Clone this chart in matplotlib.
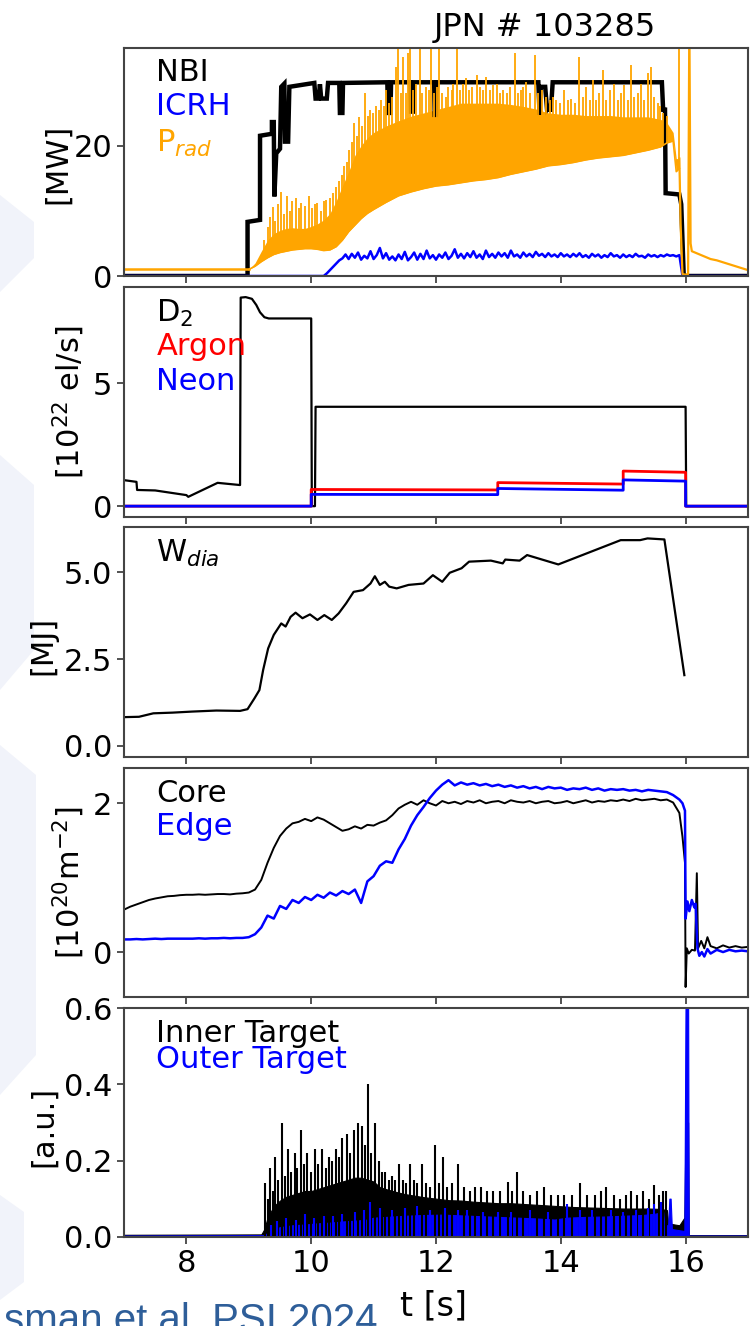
import numpy as np
import matplotlib
matplotlib.use('Agg')
import matplotlib.pyplot as plt
from matplotlib.patches import Polygon
from matplotlib.ticker import FormatStrFormatter

plt.rcParams['font.family'] = ['DejaVu Sans']
plt.rcParams['mathtext.fontset'] = 'dejavusans'

# ------------------------------------------------------------------ data
x_ticks = [8, 10, 12, 14, 16]

# Panel 1: heating / radiated power [MW]
nbi_t = [7.0, 8.98, 8.98, 9.18, 9.18, 9.37, 9.37, 9.40, 9.41, 9.44, 9.50, 9.52, 9.57, 9.58, 9.63, 9.65,
         10.05, 10.07, 10.12, 10.14, 10.16, 10.25, 10.27, 10.45, 10.46, 10.50, 10.51, 11.22, 11.23, 11.27,
         11.28, 11.59, 11.60, 11.63, 11.64, 11.97, 11.98, 12.00, 12.01, 13.64, 13.66, 13.68, 13.75, 13.78,
         13.82, 13.84, 13.87, 15.62, 15.64, 15.67, 15.68, 15.90, 15.93, 15.97, 17.0]
nbi_p = [0.0, 0.0, 8.3, 8.6, 21.5, 21.8, 23.6, 23.6, 12.2, 18.8, 19.5, 29.0, 29.5, 20.6, 20.6, 29.0,
         29.6, 27.2, 27.2, 29.4, 27.2, 27.2, 29.6, 29.6, 25.0, 25.0, 29.6, 29.7, 25.0, 25.0,
         29.7, 29.7, 25.2, 25.2, 29.7, 29.7, 24.7, 24.7, 29.7, 29.7, 24.7, 29.0, 29.0, 25.5,
         26.0, 25.2, 29.7, 29.7, 25.5, 25.5, 12.7, 12.5, 11.0, 0.0, 0.0]

icrh_t0, icrh_dt = 10.20, 0.05
icrh_p = [0.0, 0.4, 0.9, 1.4, 1.9, 2.4, 2.7, 3.3, 2.6, 3.4, 2.8, 3.6, 2.5, 3.1, 2.7, 3.8, 2.6, 3.2, 4.3, 2.7,
          3.5, 2.5, 3.0, 2.4, 3.3, 2.6, 3.7, 2.4, 2.9, 3.6, 2.5, 3.4, 2.6, 3.9, 2.7, 3.2, 2.5, 3.3, 2.8, 3.6,
          2.6, 3.1, 4.1, 2.8, 3.4, 2.7, 3.5, 2.9, 3.8, 2.8, 3.3, 2.6, 3.9, 2.9, 3.4, 2.8, 3.6, 3.0, 3.5, 2.8,
          3.9, 3.0, 3.3, 2.8, 3.6, 3.0, 3.4, 2.9, 3.7, 3.1, 3.4, 2.9, 3.5, 3.0, 3.3, 2.9, 3.5, 3.0, 3.3, 2.9,
          3.4, 3.0, 3.5, 2.9, 3.2, 2.8, 3.4, 3.0, 3.3, 2.8, 3.2, 2.9, 3.5, 3.0, 3.2, 2.8, 3.3, 2.9, 3.2, 2.9,
          3.4, 3.0, 3.1, 2.8, 3.3, 3.0, 3.2, 2.9, 3.2, 3.0, 3.3, 3.1, 3.2, 3.0, 3.2]
icrh_end_t = [15.95, 17.0]
icrh_end_p = [0.0, 0.0]

prad_base_t = [7.0, 9.0]
prad_base_p = [1.0, 1.0]
prad_env_t = [9.0, 9.1, 9.2, 9.3, 9.4, 9.5, 9.6, 9.7, 9.8, 9.9, 10.0, 10.1, 10.2, 10.3, 10.4, 10.5, 10.6,
              10.7, 10.8, 10.9, 11.0, 11.2, 11.4, 11.6, 11.8, 12.0, 12.2, 12.4, 12.6, 12.8, 13.0, 13.2,
              13.4, 13.6, 13.8, 14.0, 14.2, 14.4, 14.6, 14.8, 15.0, 15.2, 15.4, 15.6, 15.7, 15.8, 15.85, 15.9]
prad_low = [1.0, 1.5, 2.2, 2.8, 3.3, 3.6, 3.8, 4.0, 4.1, 4.2, 4.2, 4.1, 3.9, 4.0, 4.5, 5.5, 6.8,
            7.8, 8.8, 9.6, 10.2, 11.3, 12.3, 12.9, 13.4, 13.8, 14.0, 14.3, 14.6, 14.8, 15.1, 15.6,
            16.0, 16.4, 16.9, 17.1, 17.4, 17.8, 18.1, 18.3, 18.5, 18.9, 19.3, 19.8, 20.4, 20.7, 16.0, 16.5]
prad_high = [1.0, 2.0, 3.8, 5.5, 6.5, 7.0, 7.3, 7.4, 7.3, 7.3, 7.6, 8.0, 8.6, 9.6, 11.5, 13.8, 16.0,
             18.5, 20.0, 21.2, 22.0, 23.0, 23.8, 24.5, 25.0, 25.5, 26.0, 26.5, 26.5, 26.5, 26.5, 26.3,
             26.0, 25.6, 25.0, 24.8, 24.8, 24.6, 24.6, 24.6, 24.4, 24.4, 24.4, 24.0, 23.5, 22.0, 18.0, 18.0]
prad_tail_t = [15.9, 15.92, 15.95, 16.0, 16.04, 16.06, 16.08, 16.1, 16.2, 16.3, 16.4, 16.5, 16.6, 16.7,
               16.8, 16.9, 17.0]
prad_tail_p = [18.0, 8.0, 0.3, 0.2, 0.3, 40.0, 5.0, 3.8, 3.4, 3.0, 2.6, 2.4, 2.1, 1.8, 1.5, 1.2, 0.9]
prad_spk_t = [9.25, 9.30, 9.34, 9.38, 9.42, 9.46, 9.52, 9.56, 9.62, 9.66, 9.70, 9.76, 9.80, 9.84, 9.90, 9.97,
              10.02, 10.06, 10.10, 10.15, 10.20, 10.24, 10.30, 10.35, 10.40, 10.45, 10.49, 10.53, 10.57,
              10.61, 10.65, 10.69, 10.73, 10.77, 10.82, 10.87, 10.91, 10.95, 10.99, 11.04, 11.08, 11.12,
              11.16, 11.20, 11.25, 11.30, 11.36, 11.39, 11.44, 11.47, 11.52, 11.55, 11.58, 11.63, 11.68,
              11.74, 11.78, 11.84, 11.88, 11.92, 11.97, 12.01, 12.05, 12.10, 12.16, 12.20, 12.25, 12.28,
              12.33, 12.38, 12.43, 12.48, 12.53, 12.58, 12.65, 12.70, 12.75, 12.80, 12.86, 12.91, 12.97,
              13.02, 13.08, 13.13, 13.18, 13.26, 13.31, 13.36, 13.40, 13.45, 13.50, 13.58, 13.63, 13.70,
              13.76, 13.82, 13.88, 13.93, 13.99, 14.05, 14.11, 14.17, 14.23, 14.29, 14.35, 14.40, 14.46,
              14.52, 14.57, 14.62, 14.68, 14.73, 14.79, 14.86, 14.91, 14.96, 15.02, 15.07, 15.13, 15.18,
              15.23, 15.29, 15.34, 15.40, 15.45, 15.50, 15.55, 15.59, 15.64, 15.70, 15.90]
prad_spk_p = [5.5, 7.5, 9.0, 10.6, 8.5, 11.0, 12.9, 9.5, 12.2, 10.0, 11.5, 12.0, 10.5, 11.2, 10.8, 12.2,
              10.5, 11.0, 11.2, 10.0, 11.5, 11.7, 12.0, 12.8, 13.7, 14.5, 15.5, 16.8, 17.5,
              19.3, 20.5, 23.4, 21.5, 24.4, 23.0, 28.0, 24.5, 25.5, 25.0, 26.0, 25.5, 27.0,
              26.0, 28.5, 26.5, 27.5, 32.1, 36.0, 28.0, 33.6, 28.0, 34.2, 36.0, 28.5, 29.5,
              36.0, 28.0, 29.0, 28.5, 36.0, 28.0, 29.0, 36.0, 28.0, 27.5, 29.0, 28.5, 29.5,
              36.0, 28.5, 29.5, 30.3, 28.5, 29.0, 30.8, 29.0, 28.5, 30.5, 28.5, 29.3, 29.5,
              28.0, 28.5, 28.0, 29.0, 34.2, 28.0, 28.5, 29.0, 29.8, 28.0, 33.9, 28.0, 28.5,
              27.5, 27.0, 27.5, 27.0, 26.5, 28.5, 27.0, 27.2, 26.5, 33.6, 27.5, 29.0, 27.0,
              30.1, 27.0, 28.0, 31.6, 27.0, 28.5, 29.5, 27.0, 28.0, 29.3, 27.0, 32.4, 27.5,
              28.0, 29.5, 27.0, 31.1, 32.1, 27.5, 26.5, 26.0, 25.0, 24.5, 36.0]

# Panel 2: gas fuelling [1e22 el/s]
d2_t = [7.0, 7.2, 7.21, 7.5, 8.0, 8.03, 8.5, 8.86, 8.87, 8.95, 9.05, 9.12, 9.18, 9.25, 9.32, 10.0, 10.01,
        10.06, 10.07, 16.0, 16.01, 17.0]
d2_v = [1.06, 0.99, 0.66, 0.64, 0.45, 0.38, 0.95, 0.86, 8.5, 8.52, 8.45, 8.2, 7.9, 7.7, 7.65, 7.65, 0.0,
        0.0, 4.05, 4.05, 0.0, 0.0]
ar_t = [7.0, 10.0, 10.0, 12.99, 12.99, 15.0, 15.0, 16.0, 16.0, 17.0]
ar_v = [0.0, 0.0, 0.68, 0.66, 0.96, 0.90, 1.43, 1.38, 0.0, 0.0]
ne_t = [7.0, 10.0, 10.0, 12.99, 12.99, 15.0, 15.0, 16.0, 16.0, 17.0]
ne_v = [0.0, 0.0, 0.48, 0.47, 0.72, 0.65, 1.07, 1.02, 0.0, 0.0]

# Panel 3: diamagnetic energy [MJ]
wdia_t = [7.0, 7.24, 7.47, 7.78, 8.09, 8.48, 8.86, 8.98, 9.09, 9.17, 9.23, 9.31, 9.40, 9.52, 9.59, 9.67,
          9.75, 9.86, 9.98, 10.10, 10.21, 10.33, 10.44, 10.56, 10.68, 10.83, 10.95, 11.02, 11.10, 11.18,
          11.25, 11.37, 11.56, 11.80, 11.95, 12.10, 12.22, 12.41, 12.53, 12.88, 13.07, 13.11, 13.34,
          13.46, 13.96, 14.96, 15.27, 15.39, 15.66, 15.98]
wdia_v = [0.83, 0.84, 0.94, 0.96, 0.99, 1.02, 1.01, 1.06, 1.37, 1.61, 2.19, 2.81, 3.20, 3.53, 3.44, 3.72,
          3.84, 3.68, 3.79, 3.63, 3.77, 3.63, 3.82, 4.11, 4.44, 4.49, 4.68, 4.89, 4.64, 4.73,
          4.59, 4.54, 4.64, 4.68, 4.92, 4.73, 4.99, 5.12, 5.31, 5.34, 5.26, 5.37, 5.34,
          5.50, 5.23, 5.93, 5.93, 5.98, 5.95, 2.04]

# Panel 4: line-integrated density [1e20 m^-2]
dens_t0, dens_dt = 7.0, 0.1
core_v = [0.57, 0.61, 0.64, 0.67, 0.70, 0.72, 0.735, 0.75, 0.755, 0.765,
          0.77, 0.77, 0.775, 0.77, 0.775, 0.78, 0.78, 0.775, 0.785, 0.79,
          0.80, 0.84, 0.97, 1.20, 1.40, 1.56, 1.66, 1.73, 1.75, 1.79,
          1.76, 1.81, 1.78, 1.73, 1.68, 1.63, 1.65, 1.69, 1.66, 1.71,
          1.70, 1.74, 1.77, 1.84, 1.93, 1.98, 2.02, 1.98, 2.04, 2.00,
          1.97, 2.03, 2.00, 2.02, 1.99, 2.03, 2.01, 2.04, 2.00, 2.02,
          2.03, 2.00, 2.04, 2.02, 2.01, 2.03, 2.00, 2.02, 2.03, 2.00,
          2.01, 2.03, 2.00, 2.02, 2.04, 2.01, 2.03, 2.02, 2.04, 2.03,
          2.05, 2.03, 2.06, 2.04, 2.05, 2.06, 2.04, 2.05, 2.01, 1.87]
core_tail_t = [15.95, 15.99, 16.0, 16.02, 16.05, 16.1, 16.15, 16.18, 16.2, 16.25, 16.3, 16.35, 16.4, 16.5,
               16.6, 16.7, 16.8, 16.9, 17.0]
core_tail_v = [1.55, 1.2, -0.47, 0.05, -0.02, 0.03, 0.02, 1.06, 0.05, 0.15, 0.05, 0.2, 0.08, 0.05,
               0.09, 0.06, 0.08, 0.06, 0.07]
edge_v = [0.17, 0.17, 0.175, 0.17, 0.175, 0.18, 0.175, 0.18, 0.18, 0.18,
          0.18, 0.18, 0.185, 0.18, 0.185, 0.185, 0.19, 0.185, 0.19, 0.19,
          0.20, 0.24, 0.33, 0.49, 0.45, 0.62, 0.58, 0.70, 0.66, 0.74,
          0.70, 0.77, 0.73, 0.80, 0.76, 0.82, 0.78, 0.84, 0.66, 0.95,
          1.02, 1.16, 1.22, 1.20, 1.38, 1.52, 1.70, 1.84, 1.95, 2.07,
          2.17, 2.25, 2.31, 2.24, 2.28, 2.25, 2.27, 2.24, 2.26, 2.23,
          2.25, 2.22, 2.24, 2.21, 2.23, 2.20, 2.22, 2.19, 2.22, 2.20,
          2.21, 2.18, 2.20, 2.19, 2.21, 2.18, 2.20, 2.17, 2.19, 2.18,
          2.19, 2.17, 2.18, 2.16, 2.18, 2.17, 2.16, 2.15, 2.11, 2.05]
edge_tail_t = [15.95, 15.99, 16.0, 16.03, 16.06, 16.1, 16.14, 16.16, 16.19, 16.22, 16.26, 16.3, 16.35,
               16.4, 16.5, 16.6, 16.7, 16.8, 16.9, 17.0]
edge_tail_v = [2.0, 1.9, 0.45, 0.68, 0.55, 0.70, 0.60, 0.65, 0.05, -0.05, 0.0, -0.06, 0.04,
               -0.02, 0.03, 0.0, 0.03, 0.01, 0.02, 0.01]

# Panel 5: divertor target signals [a.u.]
inner_t = [7.0, 9.2, 9.25, 9.3, 9.4, 9.5, 9.6, 9.7, 9.8, 9.9, 10.0, 10.1, 10.2, 10.3, 10.4, 10.5, 10.6,
           10.7, 10.8, 10.9, 11.0, 11.1, 11.2, 11.35, 11.5, 11.65, 11.8, 12.0, 12.2, 12.4, 12.6, 12.8,
           13.0, 13.2, 13.4, 13.6, 13.8, 14.0, 14.2, 14.4, 14.6, 14.8, 15.0, 15.2, 15.4, 15.6, 15.7,
           15.72, 15.9, 15.98, 16.0, 16.04, 16.05, 17.0]
inner_top = [0.005, 0.006, 0.02, 0.05, 0.08, 0.095, 0.105, 0.11, 0.115, 0.12, 0.12, 0.125, 0.13, 0.135,
             0.14, 0.145, 0.15, 0.155, 0.155, 0.15, 0.145, 0.13, 0.125, 0.118, 0.112, 0.108, 0.104,
             0.1, 0.096, 0.095, 0.092, 0.09, 0.088, 0.088, 0.086, 0.084, 0.082, 0.08, 0.078, 0.077,
             0.076, 0.075, 0.074, 0.074, 0.074, 0.073, 0.07, 0.035, 0.03, 0.05, 0.3, 0.3, 0.004, 0.004]
inner_spk_t = [9.26, 9.30, 9.34, 9.38, 9.42, 9.47, 9.54, 9.58, 9.63, 9.68, 9.74, 9.78, 9.83, 9.88, 9.94,
               9.99, 10.06, 10.11, 10.17, 10.23, 10.29, 10.34, 10.40, 10.45, 10.50, 10.57, 10.62, 10.68,
               10.75, 10.81, 10.86, 10.91, 10.96, 11.02, 11.08, 11.13, 11.18, 11.24, 11.30, 11.35, 11.41,
               11.47, 11.52, 11.58, 11.64, 11.70, 11.78, 11.84, 11.90, 11.99, 12.05, 12.11, 12.18, 12.25,
               12.35, 12.45, 12.55, 12.63, 12.72, 12.82, 12.92, 13.03, 13.15, 13.22, 13.30, 13.40, 13.50,
               13.62, 13.73, 13.85, 13.95, 14.05, 14.18, 14.31, 14.42, 14.55, 14.64, 14.73, 14.85, 14.95,
               15.05, 15.12, 15.22, 15.32, 15.41, 15.49, 15.58, 15.64, 15.69]
inner_spk_v = [0.14, 0.10, 0.18, 0.12, 0.21, 0.15, 0.30, 0.16, 0.23, 0.17, 0.22, 0.18, 0.28, 0.19, 0.22,
               0.17, 0.23, 0.19, 0.23, 0.18, 0.21, 0.20, 0.23, 0.21, 0.26, 0.27, 0.22, 0.28,
               0.30, 0.29, 0.24, 0.40, 0.22, 0.30, 0.20, 0.17, 0.17, 0.15, 0.16, 0.15, 0.19,
               0.15, 0.14, 0.19, 0.15, 0.14, 0.19, 0.14, 0.13, 0.24, 0.14, 0.21, 0.13, 0.14,
               0.19, 0.13, 0.12, 0.13, 0.13, 0.12, 0.12, 0.12, 0.145, 0.12, 0.17, 0.12, 0.11,
               0.12, 0.13, 0.11, 0.11, 0.11, 0.11, 0.14, 0.11, 0.11, 0.12, 0.13, 0.11, 0.10,
               0.11, 0.12, 0.11, 0.12, 0.10, 0.135, 0.11, 0.12, 0.12]
outer_t = [7.0, 9.25, 9.3, 9.4, 9.5, 9.7, 9.9, 10.1, 10.3, 10.5, 10.7, 10.9, 11.0, 11.2, 11.5, 11.8, 12.1,
           12.4, 12.7, 13.0, 13.3, 13.6, 13.9, 14.1, 14.4, 14.7, 15.0, 15.3, 15.5, 15.64, 15.66, 15.72,
           15.74, 15.76, 15.78, 15.98, 16.0, 16.04, 16.05, 17.0]
outer_top = [0.003, 0.004, 0.01, 0.02, 0.025, 0.03, 0.032, 0.035, 0.037, 0.04, 0.042, 0.045, 0.05, 0.052,
             0.055, 0.057, 0.058, 0.056, 0.054, 0.052, 0.05, 0.048, 0.045, 0.05, 0.052, 0.053, 0.055,
             0.057, 0.06, 0.065, 0.03, 0.03, 0.1, 0.1, 0.02, 0.015, 0.65, 0.65, 0.003, 0.003]
outer_spk_t = [9.35, 9.45, 9.60, 9.75, 9.90, 10.05, 10.20, 10.35, 10.50, 10.70, 10.85, 10.95, 11.10, 11.30,
               11.50, 11.70, 11.90, 12.15, 12.35, 12.50, 12.75, 13.00, 13.20, 13.50, 13.80, 14.10, 14.30,
               14.50, 14.80, 15.00, 15.20, 15.40, 15.50, 15.60]
outer_spk_v = [0.03, 0.04, 0.05, 0.045, 0.06, 0.05, 0.055, 0.055, 0.06, 0.065, 0.07, 0.09, 0.075, 0.07,
               0.075, 0.08, 0.07, 0.075, 0.07, 0.07, 0.065, 0.065, 0.065, 0.07, 0.065, 0.085, 0.07,
               0.07, 0.07, 0.065, 0.07, 0.075, 0.085, 0.09]

# ------------------------------------------------------------------ figure
W, H = 751, 1326
fig = plt.figure(figsize=(W / 100, H / 100), dpi=100)

# very faint watermark shapes on the left edge (drawn underneath everything)
wm = '#F1F3FA'
for pts in ([(0, 195), (34, 222), (34, 258), (0, 292)],
            [(0, 455), (34, 485), (34, 650), (0, 690)],
            [(0, 745), (36, 775), (36, 1055), (0, 1095)],
            [(0, 1195), (24, 1212), (24, 1282), (0, 1300)]):
    fig.patches.append(Polygon([(x / W, 1 - y / H) for x, y in pts], closed=True,
                               transform=fig.transFigure, facecolor=wm, edgecolor='none', zorder=-5))

L, R = 124, 748
rows = [(47.7, 276.0), (287.3, 516.7), (527.3, 756.7), (768.3, 996.7), (1008.3, 1236.7)]
axes = [fig.add_axes([L / W, 1 - b / H, (R - L) / W, (b - t) / H]) for t, b in rows]
TFS = 22
LFS = 22
for i, ax in enumerate(axes):
    ax.set_xlim(7, 17)
    ax.set_xticks(x_ticks)
    for s in ax.spines.values():
        s.set_color('#444444')
        s.set_linewidth(1.5)
    ax.tick_params(direction='out', length=5, width=1.3, colors='#444444', labelcolor='black',
                   labelsize=TFS)
    if i < 4:
        ax.tick_params(labelbottom=False)

def tag(ax, y, s, color):
    ax.text(0.052, y, s, color=color, fontsize=LFS, transform=ax.transAxes, ha='left', va='baseline')

# Panel 1
ax = axes[0]
icrh_t = [icrh_t0 + k * icrh_dt for k in range(len(icrh_p))]
ax.plot(nbi_t, nbi_p, color='black', lw=3.2, solid_joinstyle='miter')
ax.plot([7.0, icrh_t0] + icrh_t + icrh_end_t, [0.0, 0.0] + icrh_p + icrh_end_p, color='blue', lw=1.8)
ax.plot(prad_base_t, prad_base_p, color='orange', lw=1.8)
ax.fill_between(prad_env_t, prad_low, prad_high, color='orange', lw=0)
ax.vlines(prad_spk_t, np.interp(prad_spk_t, prad_env_t, prad_low), prad_spk_p, color='orange', lw=1.3)
ax.plot(prad_env_t, prad_low, color='orange', lw=1.2)
ax.plot(prad_tail_t, prad_tail_p, color='orange', lw=1.6)
ax.set_ylim(0, 35)
ax.set_yticks([0, 20])
ax.set_ylabel('[MW]', fontsize=22)
ax.yaxis.set_label_coords(-0.083, 0.49)
tag(ax, 0.854, 'NBI', 'black')
tag(ax, 0.705, 'ICRH', 'blue')
tag(ax, 0.545, r'P$_{rad}$', 'orange')

# Panel 2
ax = axes[1]
ax.plot(d2_t, d2_v, color='black', lw=1.6)
ax.plot(ar_t, ar_v, color='red', lw=2.0)
ax.plot(ne_t, ne_v, color='blue', lw=2.0)
ax.set_ylim(-0.43, 8.92)
ax.set_yticks([0, 5])
ax.set_ylabel(r'[$10^{22}$ el/s]', fontsize=22)
ax.yaxis.set_label_coords(-0.060, 0.50)
tag(ax, 0.850, r'D$_2$', 'black')
tag(ax, 0.705, 'Argon', 'red')
tag(ax, 0.552, 'Neon', 'blue')

# Panel 3
ax = axes[2]
ax.plot(wdia_t, wdia_v, color='black', lw=1.6)
ax.set_ylim(-0.31, 6.3)
ax.set_yticks([0.0, 2.5, 5.0])
ax.yaxis.set_major_formatter(FormatStrFormatter('%.1f'))
ax.set_ylabel('[MJ]', fontsize=22)
ax.yaxis.set_label_coords(-0.106, 0.483)
tag(ax, 0.850, r'W$_{dia}$', 'black')

# Panel 4
ax = axes[3]
dens_t = [dens_t0 + k * dens_dt for k in range(len(core_v))]
ax.plot(dens_t + core_tail_t, core_v + core_tail_v, color='black', lw=1.4)
ax.plot(dens_t + edge_tail_t, edge_v + edge_tail_v, color='blue', lw=1.8)
ax.set_ylim(-0.6, 2.47)
ax.set_yticks([0, 2])
ax.set_ylabel(r'[$10^{20}\mathrm{m}^{-2}$]', fontsize=22)
ax.yaxis.set_label_coords(-0.060, 0.497)
tag(ax, 0.854, 'Core', 'black')
tag(ax, 0.708, 'Edge', 'blue')

# Panel 5
ax = axes[4]
ax.fill_between(inner_t, 0, inner_top, color='black', lw=0.8, edgecolor='black')
ax.vlines(inner_spk_t, 0, inner_spk_v, color='black', lw=1.5)
ax.fill_between(outer_t, 0, outer_top, color='blue', lw=0.8, edgecolor='blue')
ax.vlines(outer_spk_t, 0, outer_spk_v, color='blue', lw=1.5)
ax.set_ylim(0, 0.6)
ax.set_yticks([0.0, 0.2, 0.4, 0.6])
ax.yaxis.set_major_formatter(FormatStrFormatter('%.1f'))
ax.set_ylabel('[a.u.]', fontsize=22)
ax.yaxis.set_label_coords(-0.106, 0.482)
tag(ax, 0.854, 'Inner Target', 'black')
tag(ax, 0.737, 'Outer Target', 'blue')

# figure texts
fig.text(545 / W, 1 - 36 / H, 'JPN # 103285', ha='center', va='baseline', fontsize=23)
fig.text(433 / W, 1 - 1315 / H, 't [s]', ha='center', va='baseline', fontsize=24)
fig.text(378 / W, 1 - 1332 / H, 'sman et al. PSI 2024', ha='right', va='baseline', fontsize=29,
         color='#2E5E99', family=['Liberation Sans', 'DejaVu Sans'])

fig.savefig('out.png', dpi=100)
